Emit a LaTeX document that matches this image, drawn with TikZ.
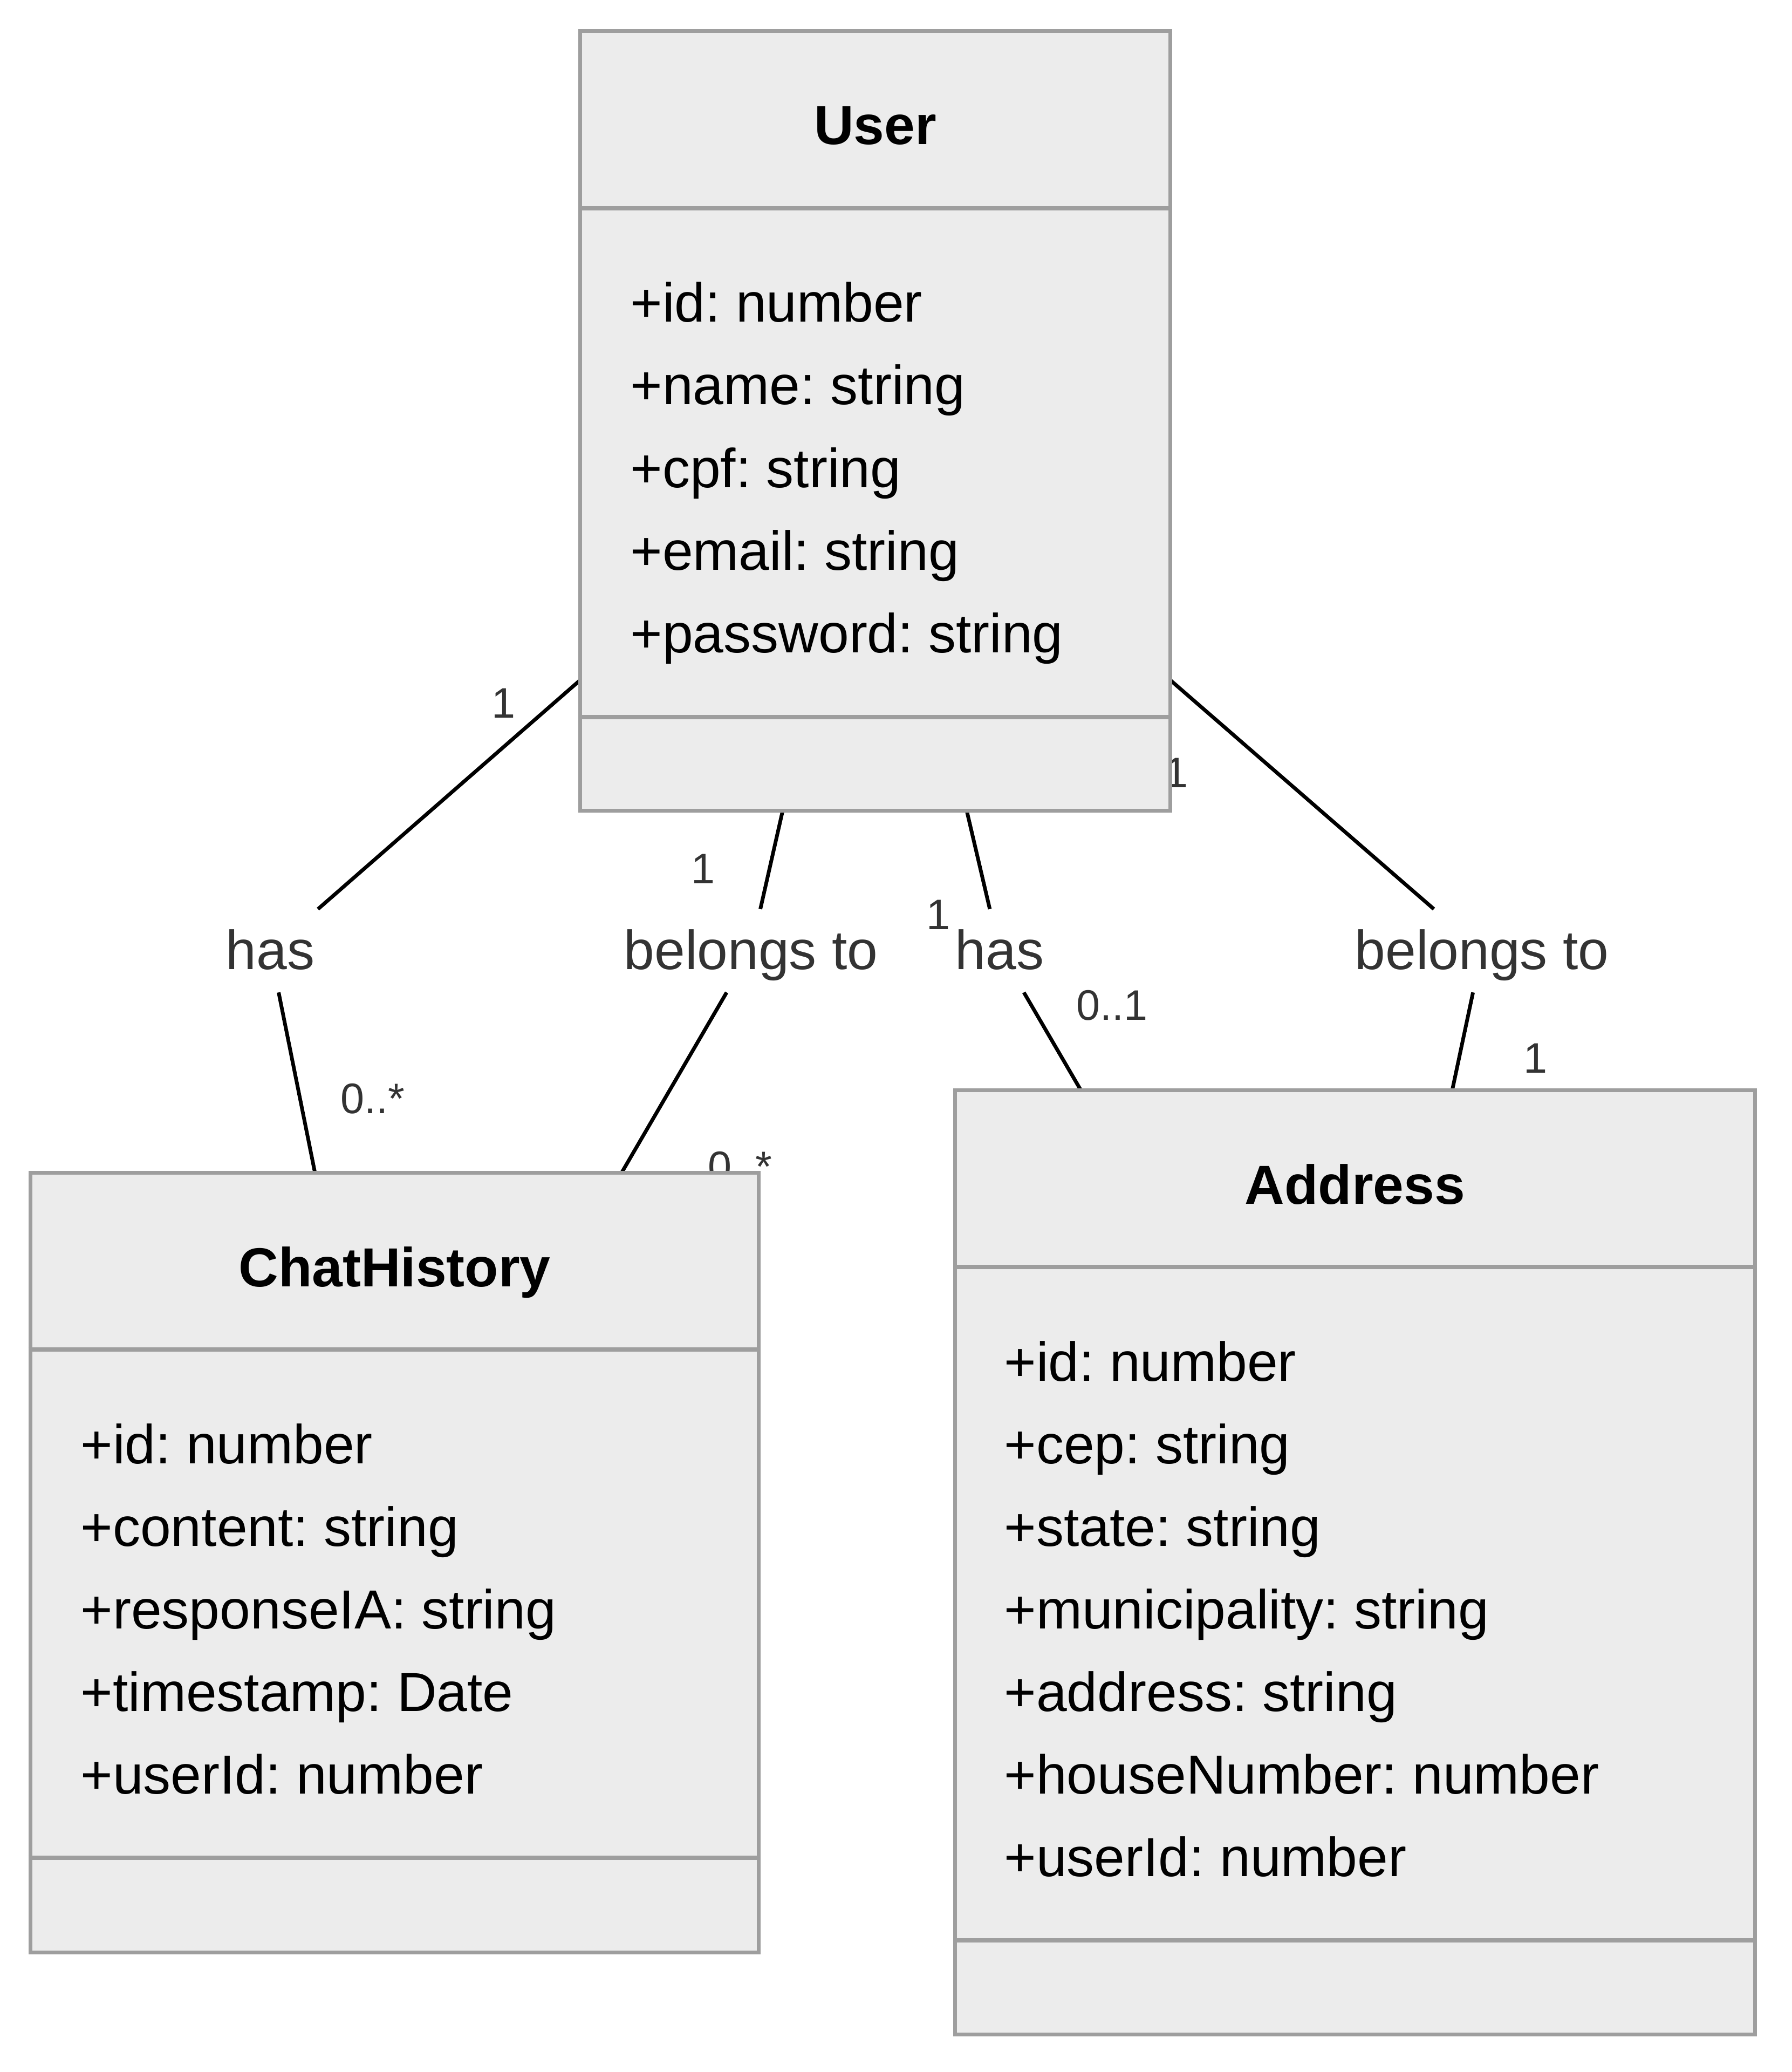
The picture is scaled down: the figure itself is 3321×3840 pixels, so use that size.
\documentclass[tikz,border=0pt]{standalone}
\usepackage{fontspec}
\setmainfont{Liberation Sans}
\frenchspacing

\definecolor{boxgray}{HTML}{9E9E9E}
\definecolor{boxfill}{HTML}{ECECEC}
\definecolor{labelgray}{HTML}{333333}

\tikzstyle{classbox}=[draw=boxgray,fill=boxfill,line width=2.1pt,inner sep=0pt]
\tikzstyle{divider}=[draw=boxgray,line width=2.1pt]
\tikzstyle{classname}=[font=\fontsize{29}{35}\selectfont\bfseries,anchor=base,inner sep=0pt]
\tikzstyle{attr}=[font=\fontsize{29}{35}\selectfont,anchor=base west,inner sep=0pt]
\tikzstyle{rel}=[fill=white,text=labelgray,font=\fontsize{29}{35}\selectfont,inner xsep=0.06cm,inner ysep=0pt,text height=0.85cm,text depth=0.16cm,minimum height=1.53cm]
\tikzstyle{mult}=[text=labelgray,font=\fontsize{22.5}{27}\selectfont,inner sep=0pt]
\tikzstyle{link}=[draw=black,line width=1.95pt]

\begin{document}
\begin{tikzpicture}[x=0.01cm,y=-0.01cm]

   \useasboundingbox (0,0) rectangle (3321,3840);

   % Relation labels

   \node[rel] (has1) at (501,1762) {has};
   \node[rel] (belongs1) at (1392,1762) {belongs to};
   \node[rel] (has2) at (1853,1762) {has};
   \node[rel] (belongs2) at (2747,1762) {belongs to};

   % Ends on the class boxes

   \coordinate (u1) at (1076,1260);
   \coordinate (u2) at (1451,1502);
   \coordinate (u3) at (1792,1502);
   \coordinate (u4) at (2169,1260);
   \coordinate (c1) at (584,2174);
   \coordinate (c2) at (1152,2174);
   \coordinate (a3) at (2004,2021);
   \coordinate (a4) at (2692,2021);

   \draw[link] (u1) -- (has1) -- (c1);
   \draw[link] (u2) -- (belongs1) -- (c2);
   \draw[link] (u3) -- (has2) -- (a3);
   \draw[link] (u4) -- (belongs2) -- (a4);

   % Multiplicities

   \node[mult] (m1) at (933,1303) {1};
   \node[mult] (m2) at (691,2036) {0..*};
   \node[mult] (m3) at (1303,1610) {1};
   \node[mult] (m4) at (1372,2162) {0..*};
   \node[mult] (m5) at (1739,1695) {1};
   \node[mult] (m6) at (2061,1863) {0..1};
   \node[mult] (m7) at (2180,1432) {1};
   \node[mult] (m8) at (2846,1961) {1};

   % User

   \node[classbox,minimum width=10.93cm,minimum height=14.44cm] (user) at (1622.5,780) {};
   \draw[divider] (user.west |- 0,386) -- (user.east |- 0,386);
   \draw[divider] (user.west |- 0,1329) -- (user.east |- 0,1329);
   \node[classname] (userT) at (1622.5,268) {User};
   \node[attr] (userA1) at (1168,597) {+id: number};
   \node[attr] (userA2) at (1168,750) {+name: string};
   \node[attr] (userA3) at (1168,903) {+cpf: string};
   \node[attr] (userA4) at (1168,1056) {+email: string};
   \node[attr] (userA5) at (1168,1209) {+password: string};

   % ChatHistory

   \node[classbox,minimum width=13.49cm,minimum height=14.44cm] (chat) at (731.5,2896) {};
   \draw[divider] (chat.west |- 0,2501) -- (chat.east |- 0,2501);
   \draw[divider] (chat.west |- 0,3443) -- (chat.east |- 0,3443);
   \node[classname] (chatT) at (731.5,2384) {ChatHistory};
   \node[attr] (chatA1) at (149,2712) {+id: number};
   \node[attr] (chatA2) at (149,2865) {+content: string};
   \node[attr] (chatA3) at (149,3018) {+responseIA: string};
   \node[attr] (chatA4) at (149,3171) {+timestamp: Date};
   \node[attr] (chatA5) at (149,3324) {+userId: number};

   % Address

   \node[classbox,minimum width=14.82cm,minimum height=17.49cm] (addr) at (2512,2895.5) {};
   \draw[divider] (addr.west |- 0,2348) -- (addr.east |- 0,2348);
   \draw[divider] (addr.west |- 0,3596) -- (addr.east |- 0,3596);
   \node[classname] (addrT) at (2512,2231) {Address};
   \node[attr] (addrA1) at (1861,2559) {+id: number};
   \node[attr] (addrA2) at (1861,2712) {+cep: string};
   \node[attr] (addrA3) at (1861,2865) {+state: string};
   \node[attr] (addrA4) at (1861,3018) {+municipality: string};
   \node[attr] (addrA5) at (1861,3171) {+address: string};
   \node[attr] (addrA6) at (1861,3324) {+houseNumber: number};
   \node[attr] (addrA7) at (1861,3477) {+userId: number};

\end{tikzpicture}
\end{document}
